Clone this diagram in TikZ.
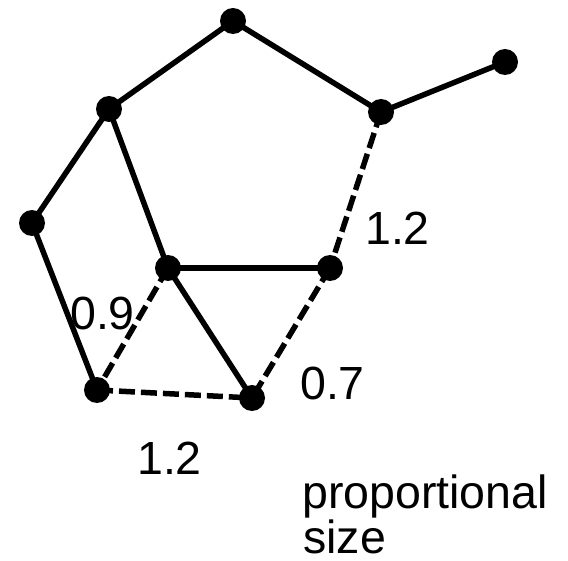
\documentclass[tikz,border=0pt]{standalone}
\usepackage{fontspec}
\setmainfont{Liberation Sans}
\begin{document}
\begin{tikzpicture}[x=1pt,y=-1pt,
  vtx/.style={circle,fill=black,inner sep=0pt,minimum size=26pt},
  edge/.style={line width=5.5pt},
  dedge/.style={line width=5.5pt,dash pattern=on 16pt off 6pt},
  lbl/.style={anchor=base west,inner sep=0pt,font=\fontsize{46.5}{48}\selectfont}]
\useasboundingbox (0,0) rectangle (568,561);
\coordinate (top) at (233,21);
\coordinate (re) at (505,62);
\coordinate (ur) at (381,112);
\coordinate (ul) at (109,109);
\coordinate (l) at (32,223);
\coordinate (c) at (168,268);
\coordinate (mr) at (330,268);
\coordinate (bl) at (97,390);
\coordinate (bm) at (252,398);
\draw[edge] (top) -- (ul);
\draw[edge] (top) -- (ur);
\draw[edge] (ur) -- (re);
\draw[edge] (ul) -- (l);
\draw[edge] (ul) -- (c);
\draw[edge] (l) -- (bl);
\draw[edge] (c) -- (mr);
\draw[edge] (c) -- (bm);
\draw[dedge] (ur) -- (mr);
\draw[dedge] (c) -- (bl);
\draw[dedge] (bl) -- (bm);
\draw[dedge] (mr) -- (bm);
\foreach \n in {top,re,ur,ul,l,c,mr,bl,bm} \node[vtx] (v\n) at (\n) {};
\node[lbl] (t1) at (365,245) {1.2};
\node[lbl] (t2) at (70,330) {0.9};
\node[lbl] (t3) at (300,400) {0.7};
\node[lbl] (t4) at (137,475) {1.2};
\node[lbl] (t5) at (302,508) {proportional};
\node[lbl] (t6) at (303,553) {size};
\end{tikzpicture}
\end{document}
